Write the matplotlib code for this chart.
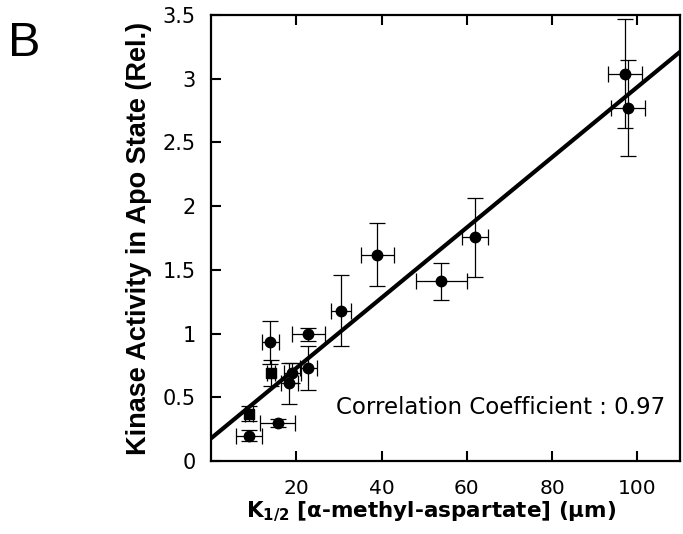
import matplotlib
matplotlib.use("Agg")
import matplotlib.pyplot as plt
import numpy as np

plt.rcParams['font.family'] = ['DejaVu Sans']
plt.rcParams['mathtext.fontset'] = 'custom'
plt.rcParams['mathtext.rm'] = 'DejaVu Sans:bold'
plt.rcParams['mathtext.bf'] = 'DejaVu Sans:bold'
plt.rcParams['mathtext.default'] = 'bf'

# circle data
x_circ = [8.85, 15.6, 13.9, 18.4, 19.1, 22.8, 22.8, 30.5, 39.0, 54.0, 61.9, 97.0, 97.9]
y_circ = [0.20, 0.30, 0.93, 0.61, 0.69, 0.995, 0.73, 1.18, 1.62, 1.41, 1.756, 3.04, 2.77]
xerr_circ = [3.0, 4.0, 2.0, 2.0, 2.0, 3.9, 2.0, 2.3, 3.9, 6.0, 3.1, 4.0, 4.0]
yerr_circ = [0.04, 0.03, 0.17, 0.16, 0.08, 0.05, 0.17, 0.28, 0.245, 0.145, 0.31, 0.43, 0.38]
# square data
x_sq = [8.85, 14.1]
y_sq = [0.37, 0.69]
xerr_sq = [1.0, 1.0]
yerr_sq = [0.06, 0.10]

fit_intercept = 0.178
fit_slope = 0.02757

xticks = [20, 40, 60, 80, 100]
yticks = [0, 0.5, 1, 1.5, 2, 2.5, 3, 3.5]
yticklabels = ['0', '0.5', '1', '1.5', '2', '2.5', '3', '3.5']

fig = plt.figure(figsize=(6.83, 5.34), dpi=100)
ax = fig.add_axes([0.309, 0.1367, 0.6866, 0.8352])

xl = np.array([0, 110])
ax.plot(xl, fit_intercept + fit_slope * xl, color='black', lw=3, zorder=2)

ax.errorbar(x_circ, y_circ, xerr=xerr_circ, yerr=yerr_circ, fmt='o', color='black',
            ms=7.5, elinewidth=0.9, capsize=5.5, capthick=0.9, zorder=3)
ax.errorbar(x_sq, y_sq, xerr=xerr_sq, yerr=yerr_sq, fmt='s', color='black',
            ms=6.5, elinewidth=0.9, capsize=5.5, capthick=0.9, zorder=3)

ax.text(29.4, 0.369, 'Correlation Coefficient : 0.97', fontsize=16.5, ha='left', va='baseline')

ax.set_xlim(0, 110)
ax.set_ylim(0, 3.5)
ax.set_xticks(xticks)
ax.set_yticks(yticks)
ax.set_yticklabels(yticklabels)
ax.tick_params(axis='x', direction='in', top=True, length=7, width=1.5, labelsize=14.5, pad=13)
ax.tick_params(axis='y', direction='in', right=False, length=7, width=1.5, labelsize=15, pad=11)
for s in ax.spines.values():
    s.set_linewidth(1.6)

ax.set_xlabel('K$_{1/2}$ [α-methyl-aspartate] (μm)', fontsize=15.5, fontweight='bold')
ax.xaxis.set_label_coords(0.4685, -0.088)
ax.set_ylabel('Kinase Activity in Apo State (Rel.)', fontsize=19.5, fontweight='bold',
              family=['Liberation Sans', 'DejaVu Sans'])
ax.yaxis.set_label_coords(-0.125, 0.5)

fig.text(0.012, 0.96, 'B', fontsize=35, ha='left', va='top', family=['Liberation Sans', 'DejaVu Sans'])

fig.savefig('out.png', dpi=100)
